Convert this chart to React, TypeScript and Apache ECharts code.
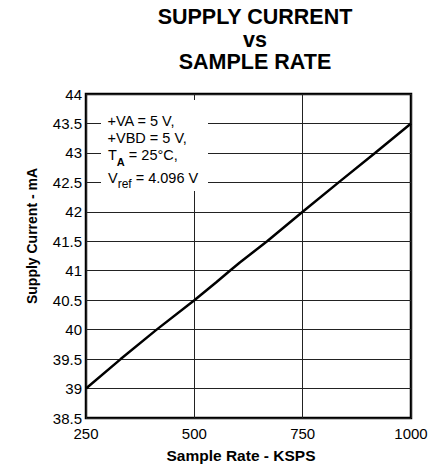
import React, { useEffect, useRef } from "react";
import * as echarts from "echarts";

const sampleRate = [250, 330, 413, 500, 550, 582, 605, 668, 750, 833, 917, 1000];
const supplyCurrent = [39, 39.5, 40, 40.5, 40.8, 41, 41.14, 41.5, 42, 42.5, 43, 43.5];
const titleLines = ["SUPPLY CURRENT", "vs", "SAMPLE RATE"];
const xTitle = "Sample Rate - KSPS";
const yTitle = "Supply Current - mA";

const FONT = "'Liberation Sans', Arial, sans-serif";

export default function App() {
  const ref = useRef<HTMLDivElement>(null);
  useEffect(() => {
    if (!ref.current) return;
    const chart = echarts.init(ref.current, null, { renderer: "svg" });
    const data = sampleRate.map((x, i) => [x, supplyCurrent[i]]);
    const annStyle = { fontFamily: FONT, fontSize: 14.5, fill: "#000" };
    const titleStyle = { fontFamily: FONT, fontWeight: "bold", fontSize: 21.5, fill: "#000", align: "center", verticalAlign: "middle" };
    chart.setOption({
      animation: false,
      backgroundColor: "#fff",
      grid: { left: 86, top: 94, right: 31, bottom: 48, show: true, borderColor: "#000", borderWidth: 2.5, backgroundColor: "transparent" },
      xAxis: {
        type: "value", min: 250, max: 1000, interval: 250,
        axisLine: { show: false }, axisTick: { show: false },
        axisLabel: { color: "#000", fontFamily: FONT, fontSize: 15, margin: 8, formatter: (v: number) => String(v) },
        splitLine: { show: true, lineStyle: { color: "#222", width: 1 } },
      },
      yAxis: {
        type: "value", min: 38.5, max: 44, interval: 0.5,
        axisLine: { show: false }, axisTick: { show: false },
        axisLabel: { color: "#000", fontFamily: FONT, fontSize: 15, margin: 4, formatter: (v: number) => String(v) },
        splitLine: { show: true, lineStyle: { color: "#222", width: 1 } },
      },
      series: [{
        type: "line", data, showSymbol: false, symbol: "none",
        lineStyle: { color: "#000", width: 2.5 }, z: 5,
      }],
      graphic: [
        { type: "text", x: 255, y: 17.2, style: { ...titleStyle, text: titleLines[0] } },
        { type: "text", x: 255, y: 40.3, style: { ...titleStyle, text: titleLines[1] } },
        { type: "text", x: 255, y: 62, style: { ...titleStyle, text: titleLines[2] } },
        { type: "text", x: 241, y: 455, style: { text: xTitle, fontFamily: FONT, fontWeight: "bold", fontSize: 15.5, fill: "#000", align: "center", verticalAlign: "middle" } },
        { type: "text", x: 32, y: 236, rotation: Math.PI / 2, style: { text: yTitle, fontFamily: FONT, fontWeight: "bold", fontSize: 14, fill: "#000", align: "center", verticalAlign: "middle" } },
        { type: "rect", shape: { x: 101, y: 100, width: 107, height: 91 }, style: { fill: "#fff" }, z: 10 },
        { type: "text", x: 107.5, y: 120.7, z: 11, style: { ...annStyle, text: "+VA = 5 V,", align: "left", verticalAlign: "middle" } },
        { type: "text", x: 107.5, y: 138, z: 11, style: { ...annStyle, text: "+VBD = 5 V,", align: "left", verticalAlign: "middle" } },
        {
          type: "text", x: 108, y: 155.3, z: 11,
          style: {
            ...annStyle, text: "T{sub|A} = 25°C,", align: "left", verticalAlign: "middle", lineHeight: 30,
            rich: { sub: { fontFamily: FONT, fontSize: 11, fontWeight: "bold", fill: "#000", padding: [14, 0, 0, 0], verticalAlign: "middle" } },
          },
        },
        {
          type: "text", x: 108, y: 178, z: 11,
          style: {
            ...annStyle, text: "V{sub|ref} = 4.096 V", align: "left", verticalAlign: "middle", lineHeight: 30,
            rich: { sub: { fontFamily: FONT, fontSize: 12, fill: "#000", padding: [12, 0, 0, 0], verticalAlign: "middle" } },
          },
        },
      ],
    });
    return () => chart.dispose();
  }, []);
  return <div ref={ref} style={{ position: "fixed", left: 0, top: 0, width: 442, height: 466 }} />;
}
